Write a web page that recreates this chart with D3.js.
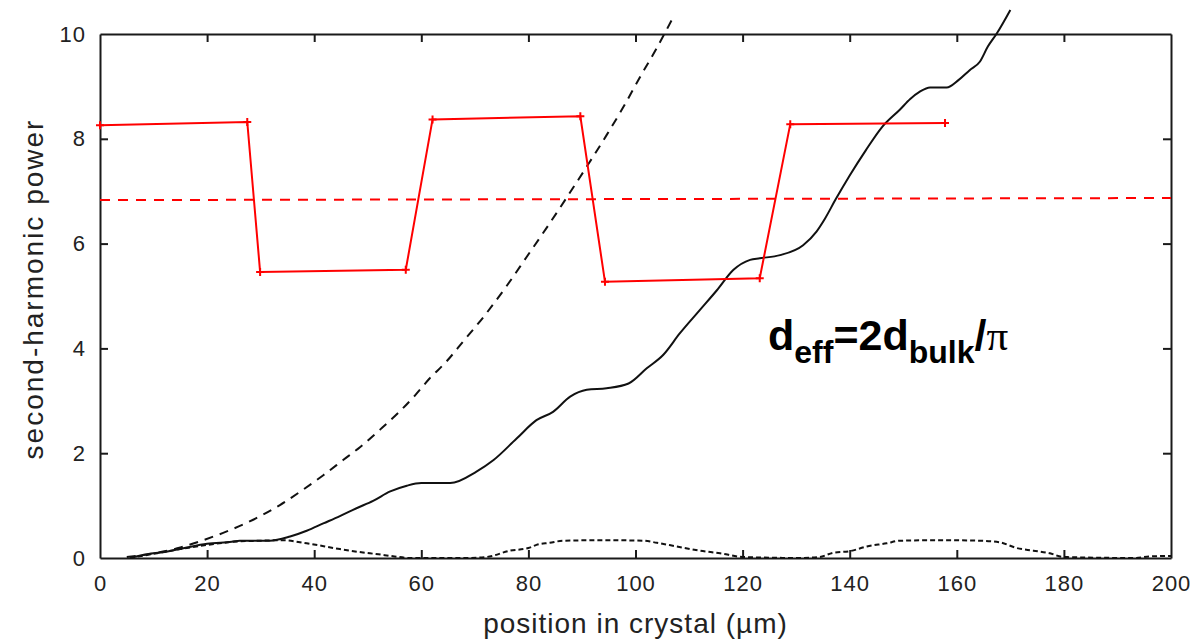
<!DOCTYPE html>
<html>
<head>
<meta charset="utf-8">
<script src="https://cdn.jsdelivr.net/npm/d3@7"></script>
<style>
  body { margin: 0; background: #fff; }
  .axis text { font-family: "Liberation Sans", Arial, sans-serif; font-size: 22px; letter-spacing: 1px; fill: #222; }
  .axis path, .axis line { stroke: #1a1a1a; stroke-width: 2; }
</style>
</head>
<body>
<div id="chart"></div>
<script>
// canvas size
var width = 1195,
    height = 640;

// plot box in pixels
var plotLeft = 100, plotRight = 1171, plotTop = 34, plotBottom = 558;

// axis ticks
var xTicks = [0, 20, 40, 60, 80, 100, 120, 140, 160, 180, 200];
var yTicks = [0, 2, 4, 6, 8, 10];

// solid black curve (position in um, power)
var solidPos = [5.6, 9.3, 12.4, 16.2, 20, 24.6, 26.1, 31.7, 35.5, 38.6, 41.7, 44.8, 47.9, 51.0, 54.2, 57.3, 60.0, 65.4,
  70.3, 73.5, 77.8, 81.5, 84.6, 87.8, 90.9, 94.6, 98.7, 102.1, 105.2, 108.3, 112.0, 115.2, 118.3, 121.4, 123.2, 127.0,
  131.3, 133.8, 135.4, 137.3, 140, 143, 146, 149.4, 151.3, 153.1, 155, 158.1, 160.3, 162.4, 164.3, 165.8, 167.4, 170];
var solidVal = [0.0, 0.08, 0.12, 0.2, 0.27, 0.31, 0.33, 0.33, 0.41, 0.52, 0.66, 0.80, 0.95, 1.09, 1.27, 1.38, 1.43, 1.43,
  1.65, 1.87, 2.28, 2.63, 2.79, 3.08, 3.21, 3.24, 3.33, 3.62, 3.88, 4.29, 4.73, 5.11, 5.50, 5.69, 5.72, 5.78,
  5.97, 6.23, 6.48, 6.83, 7.3, 7.78, 8.22, 8.56, 8.76, 8.9, 8.98, 8.98, 9.12, 9.31, 9.47, 9.76, 10.0, 10.46];

// dashed black curve
var dashPos = [5, 10, 15, 18.7, 23, 28.6, 33.6, 38.0, 41.7, 45.4, 48.6, 52.3, 56.0, 58.8, 61.5, 64.7, 67.8, 72, 76,
  79.7, 83.4, 87.1, 90.9, 94.6, 97.7, 100.8, 103.9, 107.1];
var dashVal = [0.02, 0.09, 0.2, 0.32, 0.48, 0.73, 1.01, 1.31, 1.58, 1.87, 2.12, 2.45, 2.8, 3.1, 3.42, 3.75, 4.13, 4.65, 5.2,
  5.75, 6.3, 6.87, 7.47, 8.07, 8.6, 9.17, 9.72, 10.33];

// dotted black curve
var dotPos = [5.6, 10, 15, 20, 25, 30, 34, 38.6, 44.8, 48, 52, 55, 58, 68, 72.2, 76.6, 80, 81.5, 84, 86.5, 94, 101.4,
  104, 107.7, 112, 115.8, 120, 130.7, 134.4, 136.9, 140, 143.2, 146.9, 149.4, 157, 164.6, 168, 171.2, 174.3, 177.4,
  179.8, 193.5, 196, 200];
var dotVal = [0, 0.08, 0.17, 0.25, 0.31, 0.33, 0.34, 0.28, 0.17, 0.12, 0.07, 0.03, 0, 0, 0.02, 0.14, 0.19, 0.25, 0.29, 0.33, 0.34, 0.33,
  0.29, 0.22, 0.14, 0.09, 0.02, 0, 0.02, 0.1, 0.13, 0.22, 0.28, 0.33, 0.34, 0.33, 0.3, 0.19, 0.14, 0.09,
  0.02, 0, 0.03, 0.04];

// red step line (d_eff sign flips), with + markers on the corners
var redPos = [0, 27.5, 29.9, 57.1, 62.1, 89.7, 94.3, 123.2, 128.9, 157.8];
var redVal = [8.26, 8.32, 5.46, 5.50, 8.37, 8.43, 5.27, 5.34, 8.28, 8.30];

// red dashed average level
var avgPos = [0, 200];
var avgVal = [6.83, 6.87];

var svg = d3.select("#chart").append("svg")
    .attr("width", width)
    .attr("height", height);

var x = d3.scaleLinear().domain([0, 200]).range([plotLeft, plotRight]);
var y = d3.scaleLinear().domain([0, 10]).range([plotBottom, plotTop]);

var line = d3.line()
    .x(function(d) { return x(d[0]); })
    .y(function(d) { return y(d[1]); });

// smooth version for the simulated curves
var smooth = d3.line()
    .x(function(d) { return x(d[0]); })
    .y(function(d) { return y(d[1]); })
    .curve(d3.curveMonotoneX);

function pairs(p, v) { return p.map(function(d, i) { return [d, v[i]]; }); }

// axes, ticks pointing inward on all four sides
svg.append("g").attr("class", "axis")
    .attr("transform", "translate(0," + plotBottom + ")")
    .call(d3.axisBottom(x).tickValues(xTicks).tickSize(-8).tickSizeOuter(0).tickPadding(17));
svg.append("g").attr("class", "axis")
    .attr("transform", "translate(0," + plotTop + ")")
    .call(d3.axisTop(x).tickValues(xTicks).tickSize(-8).tickSizeOuter(0).tickFormat(""));
svg.append("g").attr("class", "axis")
    .attr("transform", "translate(" + plotLeft + ",0)")
    .call(d3.axisLeft(y).tickValues(yTicks).tickSize(-8).tickSizeOuter(0).tickPadding(14));
svg.append("g").attr("class", "axis")
    .attr("transform", "translate(" + plotRight + ",0)")
    .call(d3.axisRight(y).tickValues(yTicks).tickSize(-8).tickSizeOuter(0).tickFormat(""));

// hide the end ticks that sit on the frame corners
svg.selectAll(".axis .tick line").filter(function(d) { return d === 0 || d === 200 || d === 10; }).remove();

// curves
svg.append("path").attr("d", line(pairs(avgPos, avgVal)))
    .attr("fill", "none").attr("stroke", "#ff0000").attr("stroke-width", 2).attr("stroke-dasharray", "10,8");

svg.append("path").attr("d", smooth(pairs(dotPos, dotVal)))
    .attr("fill", "none").attr("stroke", "#111").attr("stroke-width", 2).attr("stroke-dasharray", "5,3");

svg.append("path").attr("d", smooth(pairs(dashPos, dashVal)))
    .attr("fill", "none").attr("stroke", "#111").attr("stroke-width", 2).attr("stroke-dasharray", "9,7");

svg.append("path").attr("d", smooth(pairs(solidPos, solidVal)))
    .attr("fill", "none").attr("stroke", "#111").attr("stroke-width", 2);

var red = pairs(redPos, redVal);
svg.append("path").attr("d", line(red))
    .attr("fill", "none").attr("stroke", "#ff0000").attr("stroke-width", 2);
svg.append("g").selectAll("path").data(red).enter().append("path")
    .attr("d", function(d) {
      var cx = x(d[0]), cy = y(d[1]);
      return "M" + (cx - 4) + "," + cy + "H" + (cx + 4) + "M" + cx + "," + (cy - 4) + "V" + (cy + 4);
    })
    .attr("stroke", "#ff0000").attr("stroke-width", 2);

// axis titles
svg.append("text")
    .attr("x", (plotLeft + plotRight) / 2).attr("y", 633)
    .attr("text-anchor", "middle")
    .style("font-family", "Liberation Sans, Arial, sans-serif").style("font-size", "28px")
    .style("letter-spacing", "1px").style("fill", "#222")
    .text("position in crystal (µm)");

svg.append("text")
    .attr("transform", "translate(43,289) rotate(-90)")
    .attr("text-anchor", "middle")
    .style("font-family", "Liberation Sans, Arial, sans-serif").style("font-size", "28px")
    .style("letter-spacing", "2px").style("fill", "#222")
    .text("second-harmonic power");

// formula label
var f = svg.append("text")
    .attr("x", 768).attr("y", 350)
    .style("font-family", "Liberation Sans, Arial, sans-serif").style("font-weight", "bold")
    .style("font-size", "43px").style("fill", "#000");
f.append("tspan").text("d");
f.append("tspan").attr("dy", 13).style("font-size", "32px").text("eff");
f.append("tspan").attr("dy", -13).text("=2d");
f.append("tspan").attr("dy", 13).style("font-size", "32px").text("bulk");
f.append("tspan").attr("dy", -13).text("/");
f.append("tspan").style("font-family", "Liberation Serif, Times New Roman, serif").style("font-weight", "normal").text("π");
</script>
</body>
</html>
